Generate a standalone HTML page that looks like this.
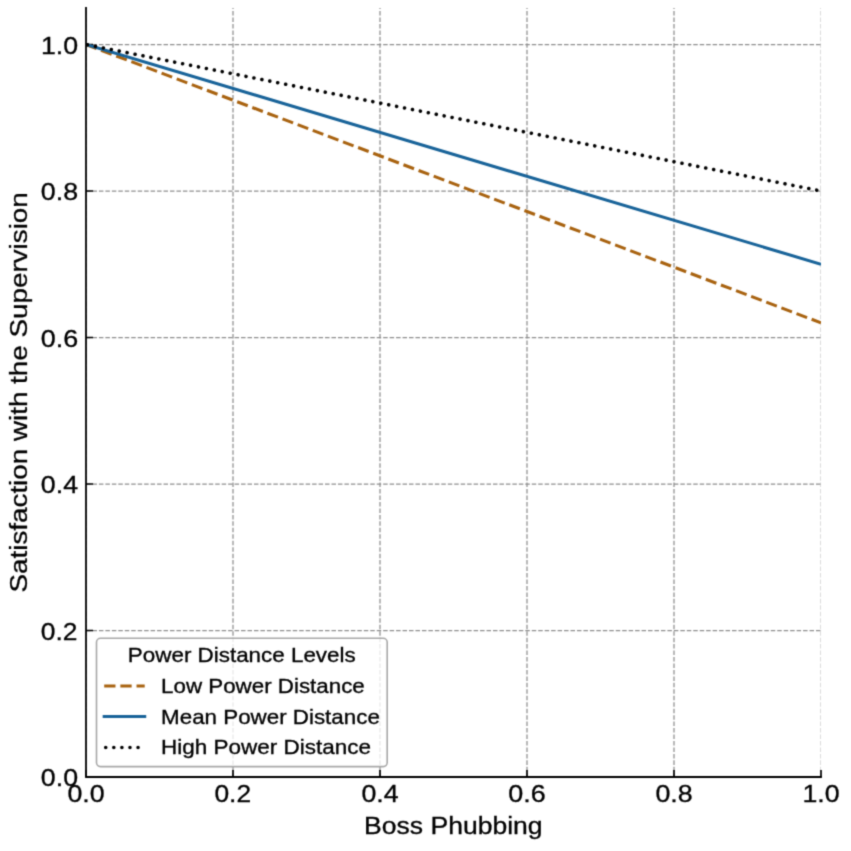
<!DOCTYPE html><html><head><meta charset="utf-8"><style>html,body{margin:0;padding:0;background:#fff;overflow:hidden}svg{display:block}text{font-family:"Liberation Sans",sans-serif}</style></head><body>
<svg width="851" height="851" viewBox="0 0 851 851">
<rect width="851" height="851" fill="#fff"/>
<filter id="bl" x="0" y="0" width="1" height="1" color-interpolation-filters="sRGB"><feConvolveMatrix order="3" kernelMatrix="1 4 1 4 16 4 1 4 1" divisor="36" edgeMode="duplicate"/></filter>
<g filter="url(#bl)">
<rect width="851" height="851" fill="#fff"/>
<defs><clipPath id="ax"><rect x="86.0" y="7.88" width="735.0" height="769.12"/></clipPath></defs>
<g clip-path="url(#ax)" fill="none" stroke="#8e8e8e" stroke-width="1.25" stroke-dasharray="4.51 1.95"><path d="M86.00,777.00V7.88" stroke-dashoffset="0.8"/><path d="M86.00,777.00H821.00"/><path d="M233.00,777.00V7.88" stroke-dashoffset="0.8"/><path d="M86.00,630.50H821.00"/><path d="M380.00,777.00V7.88" stroke-dashoffset="0.8"/><path d="M86.00,484.00H821.00"/><path d="M527.00,777.00V7.88" stroke-dashoffset="0.8"/><path d="M86.00,337.50H821.00"/><path d="M674.00,777.00V7.88" stroke-dashoffset="0.8"/><path d="M86.00,191.00H821.00"/><path d="M821.00,777.00V7.88" stroke-dashoffset="0.8" stroke-opacity="0.5"/><path d="M86.00,44.50H821.00"/></g>
<path d="M86.00,777.00v-7.1M86.00,777.00h7.1M233.00,777.00v-7.1M86.00,630.50h7.1M380.00,777.00v-7.1M86.00,484.00h7.1M527.00,777.00v-7.1M86.00,337.50h7.1M674.00,777.00v-7.1M86.00,191.00h7.1M821.00,777.00v-7.1M86.00,44.50h7.1" stroke="#000" stroke-width="1.7" fill="none"/>
<g clip-path="url(#ax)" fill="none">
<path d="M86.0,44.50L821.0,322.85" stroke="#a8620f" stroke-width="3.05" stroke-dasharray="11.285 4.880"/>
<path d="M86.0,44.50L821.0,264.25" stroke="#186399" stroke-width="3.05"/>
<path d="M86.0,44.50L821.0,191.00" stroke="#000000" stroke-width="3.6" stroke-linecap="round" stroke-dasharray="0.01 8.072" stroke-dashoffset="6.557" fill="none"/>
</g>
<path d="M86.0,777.0V7.88M86.0,777.0H821.0" stroke="#000" stroke-width="1.8" stroke-linecap="square" fill="none"/>
<text transform="translate(67.38,802.20) scale(1.0949,1)" font-size="24.46" fill="#000" stroke="#000" stroke-width="0.320">0.0</text>
<text transform="translate(40.82,786.10) scale(1.0949,1)" font-size="24.46" fill="#000" stroke="#000" stroke-width="0.320">0.0</text>
<text transform="translate(214.39,802.20) scale(1.0788,1)" font-size="24.46" fill="#000" stroke="#000" stroke-width="0.324">0.2</text>
<text transform="translate(40.83,639.60) scale(1.0788,1)" font-size="24.46" fill="#000" stroke="#000" stroke-width="0.324">0.2</text>
<text transform="translate(361.38,802.20) scale(1.0944,1)" font-size="24.46" fill="#000" stroke="#000" stroke-width="0.320">0.4</text>
<text transform="translate(40.82,493.10) scale(1.0944,1)" font-size="24.46" fill="#000" stroke="#000" stroke-width="0.320">0.4</text>
<text transform="translate(508.37,802.20) scale(1.1015,1)" font-size="24.46" fill="#000" stroke="#000" stroke-width="0.318">0.6</text>
<text transform="translate(40.81,346.60) scale(1.1015,1)" font-size="24.46" fill="#000" stroke="#000" stroke-width="0.318">0.6</text>
<text transform="translate(655.38,802.20) scale(1.0971,1)" font-size="24.46" fill="#000" stroke="#000" stroke-width="0.319">0.8</text>
<text transform="translate(40.81,200.10) scale(1.0971,1)" font-size="24.46" fill="#000" stroke="#000" stroke-width="0.319">0.8</text>
<text transform="translate(802.45,802.20) scale(1.0928,1)" font-size="24.46" fill="#000" stroke="#000" stroke-width="0.320">1.0</text>
<text transform="translate(40.88,53.60) scale(1.0928,1)" font-size="24.46" fill="#000" stroke="#000" stroke-width="0.320">1.0</text>
<text transform="translate(364.12,834.10) scale(1.0713,1)" font-size="24.77" fill="#000" stroke="#000" stroke-width="0.327">Boss Phubbing</text>
<text transform="translate(27.10,592.52) rotate(-90) scale(1.1226,1)" font-size="24.77" fill="#000" stroke="#000" stroke-width="0.312">Satisfaction with the Supervision</text>
<rect x="96.5" y="638.3" width="290.7" height="128.3" rx="4" ry="4" fill="#fff" fill-opacity="0.8" stroke="#a8a8a8" stroke-width="1.6"/>
<text transform="translate(127.86,662.40) scale(1.0877,1)" font-size="20.60" fill="#000" stroke="#000" stroke-width="0.322">Power Distance Levels</text>
<path d="M104.2,685.9H144.7" stroke="#a8620f" stroke-width="3.05" stroke-dasharray="11.285 4.880" fill="none"/>
<path d="M104.2,716.5H144.7" stroke="#186399" stroke-width="3.05" stroke-linecap="square" fill="none"/>
<path d="M104.2,747.5H144.7" stroke="#000000" stroke-width="3.6" stroke-linecap="round" stroke-dasharray="0.01 8.072" stroke-dashoffset="6.557" fill="none"/>
<text transform="translate(161.06,693.30) scale(1.0854,1)" font-size="20.60" fill="#000" stroke="#000" stroke-width="0.322">Low Power Distance</text>
<text transform="translate(161.06,723.90) scale(1.0857,1)" font-size="20.60" fill="#000" stroke="#000" stroke-width="0.322">Mean Power Distance</text>
<text transform="translate(161.05,754.10) scale(1.0925,1)" font-size="20.60" fill="#000" stroke="#000" stroke-width="0.320">High Power Distance</text>
</g>
</svg></body></html>
